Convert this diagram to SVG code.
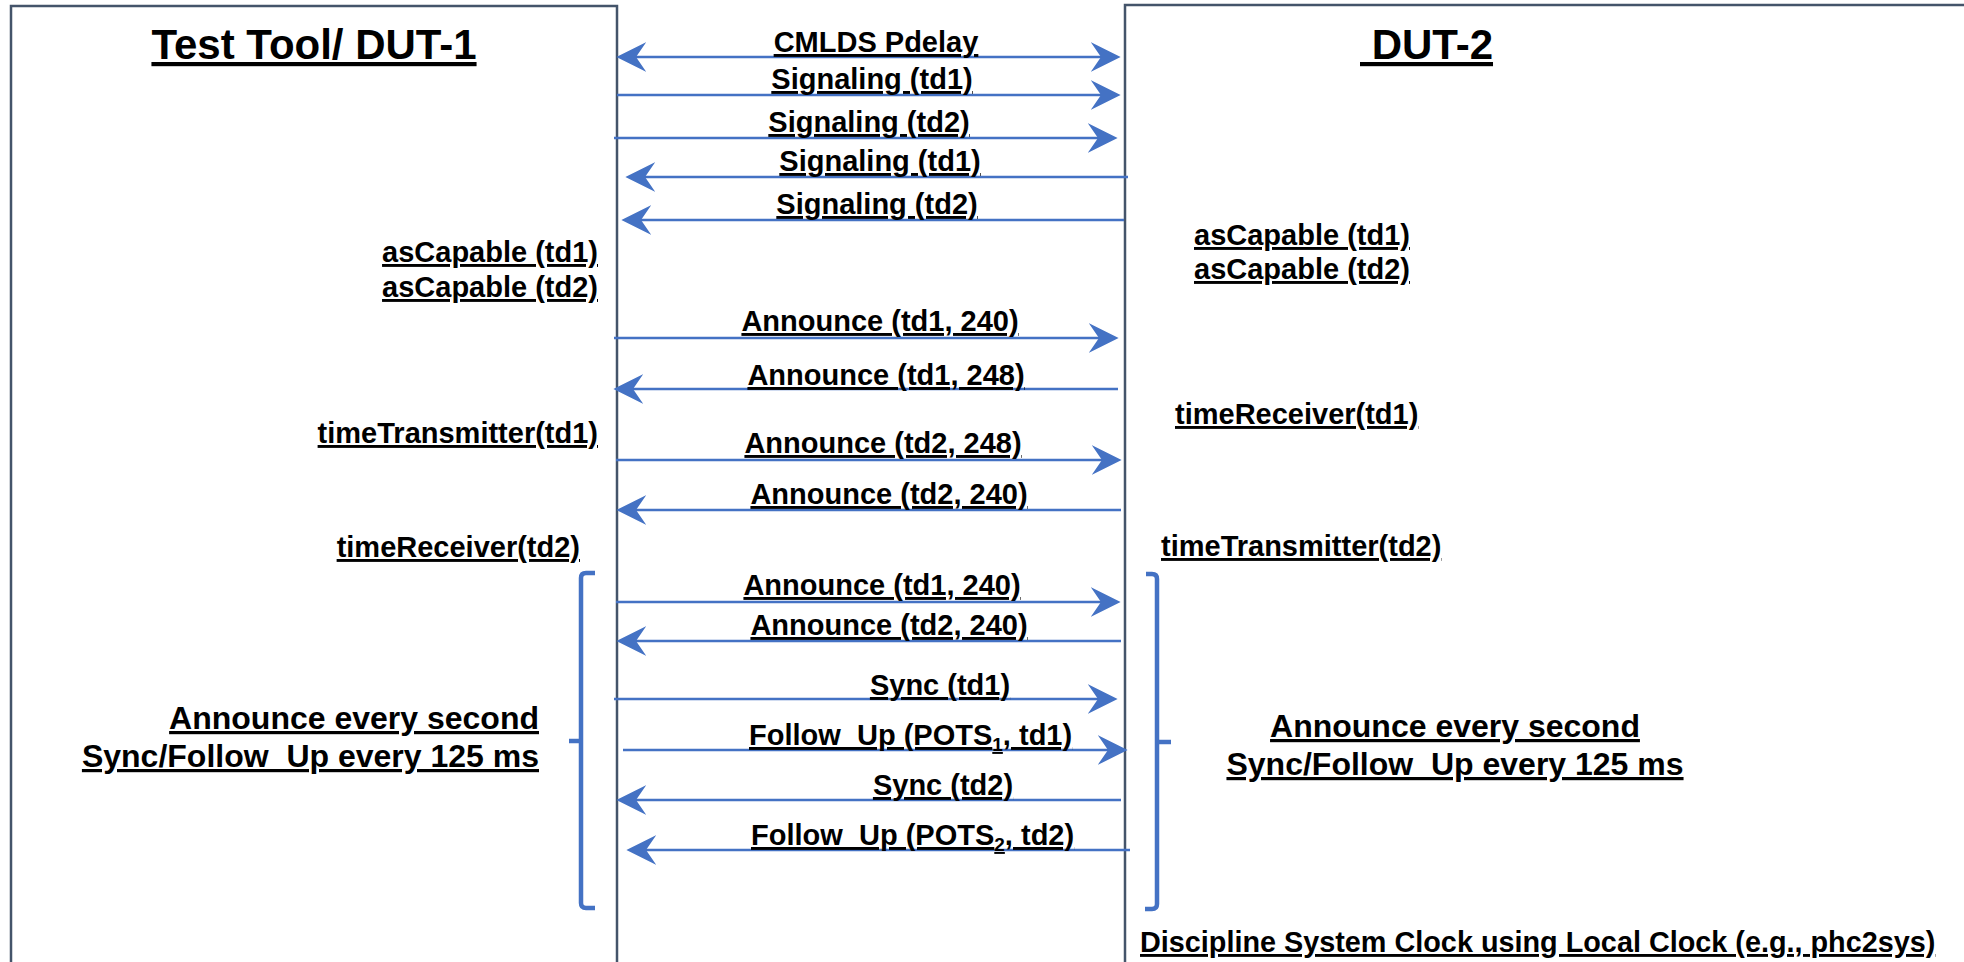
<svg xmlns="http://www.w3.org/2000/svg" width="1964" height="962" viewBox="0 0 1964 962">
<style>
text{font-family:"Liberation Sans",Arial,sans-serif;font-weight:bold;fill:#000;text-decoration:underline;}
.t{font-size:42px;}
.m{font-size:29px;}
.b{font-size:32px;}
.box{fill:none;stroke:#44546A;stroke-width:2.5;}
.arr{stroke:#4472C4;stroke-width:2.5;fill:none;marker-end:url(#ah);}
.br{stroke:#4472C4;stroke-width:4.5;fill:none;}
.c{text-anchor:middle;}
.e{text-anchor:end;}
</style>
<defs>
<marker id="ah" markerUnits="userSpaceOnUse" markerWidth="30" markerHeight="30" refX="22" refY="13" orient="auto-start-reverse" viewBox="0 0 26 26">
<path d="M0,0 L26,13 L0,26 L9,13 Z" fill="#4472C4"/>
</marker>
</defs>
<rect width="1964" height="962" fill="#fff"/>
<g id="dut1">
<rect class="box" x="11" y="6" width="606" height="1000"/>
<text class="t c" x="314" y="59">Test Tool/ DUT-1</text>
</g>
<g id="dut2">
<rect class="box" x="1125" y="5" width="900" height="1000"/>
<text class="t" x="1360" y="59" xml:space="preserve"> DUT-2</text>
</g>
<g id="connectors">
<line class="arr" x1="621" y1="57" x2="1116" y2="57" style="marker-start:url(#ah)"/>
<line class="arr" x1="617" y1="95" x2="1116" y2="95"/>
<line class="arr" x1="614" y1="138" x2="1113" y2="138"/>
<line class="arr" x1="1128" y1="177" x2="630" y2="177"/>
<line class="arr" x1="1124" y1="220" x2="626" y2="220"/>
<line class="arr" x1="614" y1="338" x2="1114" y2="338"/>
<line class="arr" x1="1118" y1="389" x2="618" y2="389"/>
<line class="arr" x1="616" y1="460" x2="1117" y2="460"/>
<line class="arr" x1="1121" y1="510" x2="621" y2="510"/>
<line class="arr" x1="616" y1="602" x2="1116" y2="602"/>
<line class="arr" x1="1121" y1="641" x2="621" y2="641"/>
<line class="arr" x1="614" y1="699" x2="1113" y2="699"/>
<line class="arr" x1="623" y1="750" x2="1123" y2="750"/>
<line class="arr" x1="1121" y1="800" x2="621" y2="800"/>
<line class="arr" x1="1130" y1="850" x2="631" y2="850"/>
</g>
<g id="messages">
<text class="m c" x="876" y="52">CMLDS Pdelay</text>
<text class="m c" x="872" y="89">Signaling (td1)</text>
<text class="m c" x="869" y="132">Signaling (td2)</text>
<text class="m c" x="880" y="171">Signaling (td1)</text>
<text class="m c" x="877" y="214">Signaling (td2)</text>
<text class="m c" x="880" y="331">Announce (td1, 240)</text>
<text class="m c" x="886" y="385">Announce (td1, 248)</text>
<text class="m c" x="883" y="453">Announce (td2, 248)</text>
<text class="m c" x="889" y="504">Announce (td2, 240)</text>
<text class="m c" x="882" y="595">Announce (td1, 240)</text>
<text class="m c" x="889" y="635">Announce (td2, 240)</text>
<text class="m c" x="940" y="695">Sync (td1)</text>
<text class="m" x="749" y="745">Follow_Up (POTS<tspan font-size="19" dy="6">1</tspan><tspan dy="-6">, td1)</tspan></text>
<text class="m c" x="943" y="795">Sync (td2)</text>
<text class="m" x="751" y="845">Follow_Up (POTS<tspan font-size="19" dy="6">2</tspan><tspan dy="-6">, td2)</tspan></text>
</g>
<g id="left-states">
<text class="m e" x="598" y="262">asCapable (td1)</text>
<text class="m e" x="598" y="297">asCapable (td2)</text>
<text class="m e" x="598" y="443">timeTransmitter(td1)</text>
<text class="m e" x="580" y="557">timeReceiver(td2)</text>
<text class="b e" x="539" y="729">Announce every second</text>
<text class="b e" x="539" y="767">Sync/Follow_Up every 125 ms</text>
<path class="br" d="M595,573 L586,573 Q581,573 581,578 L581,903 Q581,908 586,908 L595,908"/>
<path class="br" d="M569,741 L581,741"/>
</g>
<g id="right-states">
<text class="m" x="1194" y="245">asCapable (td1)</text>
<text class="m" x="1194" y="279">asCapable (td2)</text>
<text class="m" x="1175" y="424">timeReceiver(td1)</text>
<text class="m" x="1161" y="556">timeTransmitter(td2)</text>
<text class="b c" x="1455" y="737">Announce every second</text>
<text class="b c" x="1455" y="775">Sync/Follow_Up every 125 ms</text>
<text class="m" x="1140" y="952" style="font-size:28.8px">Discipline System Clock using Local Clock (e.g., phc2sys)</text>
<path class="br" d="M1146,574 L1152,574 Q1157,574 1157,579 L1157,904 Q1157,909 1152,909 L1145,909"/>
<path class="br" d="M1157,742 L1171,742"/>
</g>
</svg>
